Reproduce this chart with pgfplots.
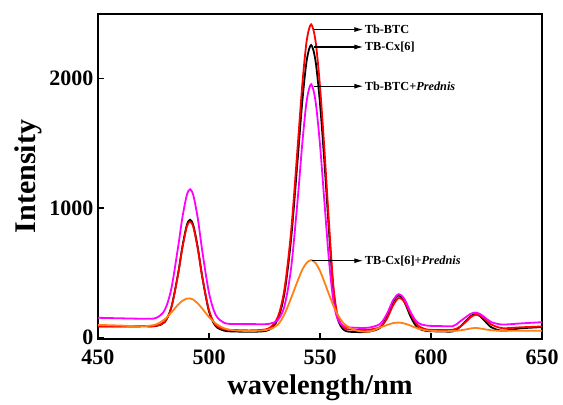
\documentclass[border=0pt]{standalone}
\usepackage{fontspec}
\setmainfont{Liberation Serif}
\usepackage{pgfplots}
\pgfplotsset{compat=1.18}
\usepackage{pgfplotstable}
\usetikzlibrary{arrows.meta}

\definecolor{spred}{RGB}{255,0,0}
\definecolor{spmag}{RGB}{255,0,255}
\definecolor{sporange}{RGB}{255,128,20}

% Emission spectra (excitation fixed), intensity in a.u.
\pgfplotstableread{
wl    red   black magenta orange
450   88    85    152   97
460   86    84    148   92
470   88    86    145   86
476   90    88    150   100
480   120   118   210   140
483   230   230   375   192
486   480   485   690   252
488   690   700   925   283
490   855   868   1100  300
491.5 895   910   1145  302
493   850   862   1095  292
495   680   690   915   262
497   465   465   665   222
500   210   200   345   158
503   97    88    175   108
507   62    52    112   70
512   57    46    104   54
520   55    44    103   50
527   71    58    105   62
531   159   142   135   100
534   375   344   243   180
537   823   765   538   305
540   1490  1390  1078  440
542   1949  1819  1495  523
544   2292  2140  1829  577
546   2420  2260  1957  598
548   2290  2136  1825  575
550   1940  1808  1490  514
552   1450  1350  1045  428
554   900   834   605   335
556   405   368   285   247
558   165   142   140   175
561   72    55    85    103
566   60    42    75    55
572   60    45    76    45
577   80    74    104   76
580   140   154   177   95
583   250   275   290   111
585.5 305   325   335   115
588   275   275   298   108
591   175   154   189   90
594   95    74    114   70
598   62    50    92    54
604   58    47    88    48
610   60    47    88    50
613   83    81    123   55
616   125   132   161   63
618   158   166   184   70
620   175   180   192   73
622   170   166   182   70
624   145   132   158   64
627   102   81    120   56
632   72    52    100   51
640   78    70    108   52
650   85    80    118   52
}\spectra

\begin{document}
\begin{tikzpicture}
\begin{axis}[
  name=ax,
  scale only axis,
  width=444pt, height=325pt,
  xmin=450, xmax=650,
  ymin=-12, ymax=2500,
  xtick={450,500,...,650},
  ytick={0,1000,2000},
  tick align=inside,
  xtick pos=bottom, ytick pos=left,
  major tick length=6pt,
  axis line style={line width=1.5pt},
  every tick/.style={black, line width=1.3pt},
  /pgf/number format/assume math mode=true,
  /pgf/number format/1000 sep={},
  ticklabel style={font=\fontsize{22}{24}\selectfont\bfseries},
  xticklabel style={yshift=-7pt},
  yticklabel style={xshift=-1pt},
  xlabel={wavelength/nm},
  ylabel={Intensity},
  xlabel style={font=\fontsize{28.5}{31}\selectfont\bfseries,
    at={(axis description cs:0.5,-0.172)}, anchor=base},
  ylabel style={font=\fontsize{30}{32}\selectfont\bfseries,
    at={(axis description cs:-0.187,0.5)}, anchor=north, inner sep=0pt},
  every axis plot/.append style={line width=1.8pt, smooth, no markers},
]
\addplot[black]     table[x=wl, y=black]   {\spectra};
\addplot[spred]     table[x=wl, y=red]     {\spectra};
\addplot[spmag]     table[x=wl, y=magenta] {\spectra};
\addplot[sporange]  table[x=wl, y=orange]  {\spectra};

\tikzset{peaklabel/.style={anchor=west, inner sep=0pt, xshift=1pt,
    font=\fontsize{12.3}{14}\selectfont\bfseries},
  peakarrow/.style={line width=1.1pt, -{Latex[length=9pt,width=5pt]}}}
\draw[peakarrow] (axis cs:547.5,2380) -- (axis cs:569.5,2380)
  node[peaklabel] {Tb-BTC};
\draw[peakarrow] (axis cs:547.5,2245) -- (axis cs:569.5,2245)
  node[peaklabel] {TB-Cx[6]};
\draw[peakarrow] (axis cs:547.5,1942) -- (axis cs:569.5,1942)
  node[peaklabel] {Tb-BTC+\itshape Prednis};
\draw[peakarrow] (axis cs:546.5,593) -- (axis cs:569.5,593)
  node[peaklabel] {TB-Cx[6]+\itshape Prednis};
\end{axis}
\path ([shift={(-98pt,-64pt)}]ax.south west) rectangle ([shift={(21pt,14pt)}]ax.north east);
\end{tikzpicture}
\end{document}
